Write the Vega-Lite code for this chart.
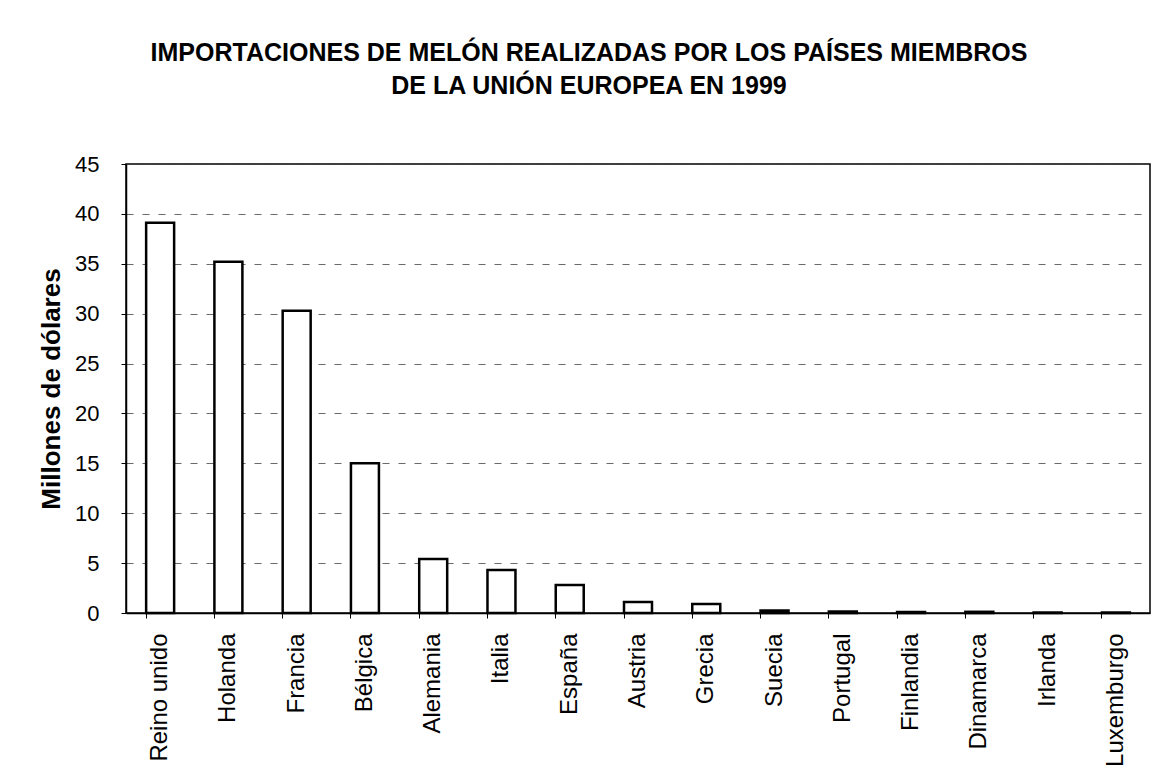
{
  "$schema": "https://vega.github.io/schema/vega-lite/v6.json",
  "autosize": {"type": "none"},
  "width": 1024,
  "height": 449,
  "padding": {"left": 126, "top": 164, "right": 6, "bottom": 159},
  "background": "white",
  "title": {
    "text": ["IMPORTACIONES DE MELÓN REALIZADAS POR LOS PAÍSES MIEMBROS", "DE LA UNIÓN EUROPEA EN 1999"],
    "anchor": "middle",
    "dx": -49,
    "offset": 54,
    "font": "Liberation Sans",
    "fontSize": 25,
    "fontWeight": "bold",
    "lineHeight": 33,
    "color": "black"
  },
  "data": {
    "values": [
      {"pais": "Reino unido", "valor": 39.1},
      {"pais": "Holanda", "valor": 35.2},
      {"pais": "Francia", "valor": 30.3},
      {"pais": "Bélgica", "valor": 15.0},
      {"pais": "Alemania", "valor": 5.4},
      {"pais": "Italia", "valor": 4.3},
      {"pais": "España", "valor": 2.8},
      {"pais": "Austria", "valor": 1.1},
      {"pais": "Grecia", "valor": 0.9},
      {"pais": "Suecia", "valor": 0.25},
      {"pais": "Portugal", "valor": 0.15},
      {"pais": "Finlandia", "valor": 0.1},
      {"pais": "Dinamarca", "valor": 0.12},
      {"pais": "Irlanda", "valor": 0.05},
      {"pais": "Luxemburgo", "valor": 0.05}
    ]
  },
  "mark": {"type": "bar", "fill": "white", "stroke": "black", "strokeWidth": 2.5},
  "encoding": {
    "x": {
      "field": "pais",
      "type": "nominal",
      "sort": null,
      "scale": {"paddingInner": 0.59},
      "axis": {
        "title": null,
        "labelAngle": -90,
        "labelAlign": "right",
        "labelBaseline": "middle",
        "labelFont": "Liberation Sans",
        "labelFontSize": 24,
        "labelColor": "black",
        "labelPadding": 15,
        "bandPosition": 0,
        "ticks": true,
        "tickSize": 5,
        "tickColor": "black",
        "domainColor": "black",
        "domainWidth": 1.5,
        "grid": false
      }
    },
    "y": {
      "field": "valor",
      "type": "quantitative",
      "scale": {"domain": [0, 45], "nice": false},
      "axis": {
        "title": "Millones de dólares",
        "titleFont": "Liberation Sans",
        "titleFontSize": 26,
        "titleFontWeight": "bold",
        "titleColor": "black",
        "titlePadding": 10,
        "values": [0, 5, 10, 15, 20, 25, 30, 35, 40, 45],
        "labelFont": "Liberation Sans",
        "labelFontSize": 22,
        "labelColor": "black",
        "labelPadding": 22,
        "tickSize": 5,
        "tickColor": "black",
        "domainColor": "black",
        "domainWidth": 1.5,
        "grid": true,
        "gridColor": "#444444",
        "gridDash": [7, 9],
        "gridWidth": 1,
        "gridOpacity": 0.8
      }
    }
  },
  "config": {
    "view": {"stroke": "black", "strokeWidth": 1.5}
  }
}
